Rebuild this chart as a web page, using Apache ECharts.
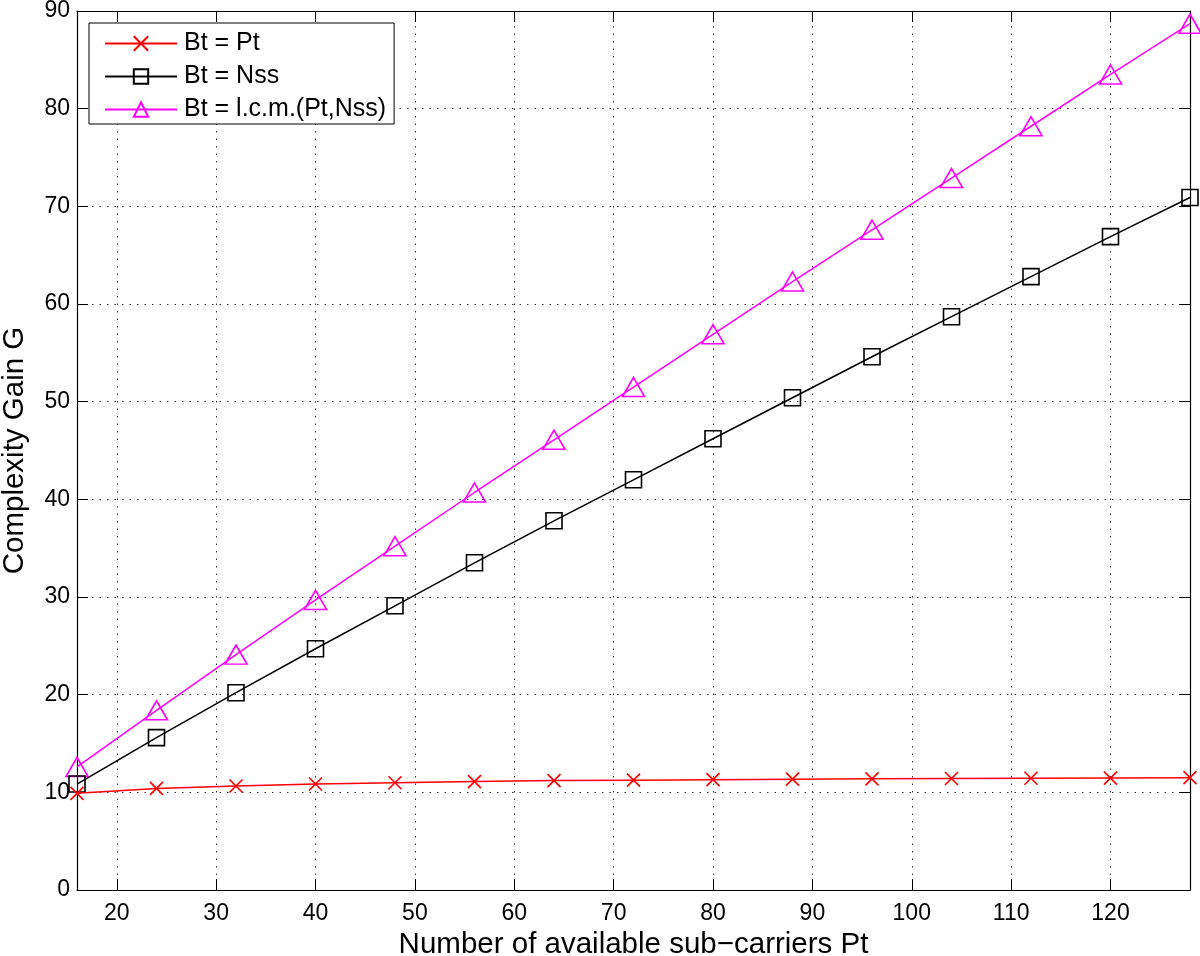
<!DOCTYPE html>
<html>
<head>
<meta charset="utf-8">
<script src="https://cdn.jsdelivr.net/npm/echarts@6/dist/echarts.min.js"></script>
<style>
  html, body { margin: 0; padding: 0; background: #fff; }
  #main { width: 1200px; height: 956px; }
</style>
</head>
<body>
<div id="main"></div>
<script>
  var myChart = echarts.init(document.getElementById('main'));

  // sub-carriers Pt
  var pt = [16, 24, 32, 40, 48, 56, 64, 72, 80, 88, 96, 104, 112, 120, 128];
  var btPt = [9.9, 10.4, 10.65, 10.85, 10.98, 11.1, 11.2, 11.25, 11.3, 11.35, 11.38, 11.42, 11.44, 11.46, 11.5];
  var btNss = [10.85, 15.6, 20.2, 24.7, 29.1, 33.5, 37.8, 42.0, 46.2, 50.4, 54.6, 58.7, 62.8, 66.9, 70.9];
  var btLcm = [12.6, 18.4, 24.1, 29.7, 35.2, 40.7, 46.1, 51.5, 56.9, 62.3, 67.6, 72.9, 78.2, 83.5, 88.7];
  var xTicks = [20, 30, 40, 50, 60, 70, 80, 90, 100, 110, 120];
  var names = ['Bt = Pt', 'Bt = Nss', 'Bt = l.c.m.(Pt,Nss)'];

  function pairs(ys) {
    return pt.map(function (x, i) { return [x, ys[i]]; });
  }

  var font = 'Liberation Sans, Arial, Helvetica, sans-serif';
  var crossPath = 'path://M0,0L10,10M10,0L0,10';

  var option = {
    backgroundColor: '#fff',
    animation: false,
    textStyle: { fontFamily: font },
    grid: { left: 77, right: 10, top: 11, bottom: 66, outerBoundsMode: 'none', containLabel: false },
    legend: {
      orient: 'vertical',
      left: 89,
      top: 23,
      padding: [8, 8, 2, 15],
      itemGap: 8,
      itemWidth: 72,
      itemHeight: 18,
      borderColor: '#000',
      borderWidth: 1,
      backgroundColor: '#fff',
      textStyle: { fontSize: 25, color: '#000', fontFamily: font, padding: [0, 0, 0, 2] },
      data: names
    },
    xAxis: [{
      type: 'value',
      min: 16,
      max: 128,
      name: 'Number of available sub\u2212carriers Pt',
      nameLocation: 'middle',
      nameGap: 36,
      nameTextStyle: { fontSize: 29.5, color: '#000', fontFamily: font },
      axisLine: { lineStyle: { color: '#000', width: 1.2 } },
      axisTick: { inside: true, length: 11, customValues: xTicks, lineStyle: { color: '#000' } },
      axisLabel: { customValues: xTicks, fontSize: 23, color: '#000', margin: 12, fontFamily: font },
      splitLine: { show: true, lineStyle: { color: '#333', type: [1.5, 6], width: 1 } }
    }, {
      type: 'value',
      position: 'top',
      min: 16,
      max: 128,
      axisLine: { show: true, onZero: false, lineStyle: { color: '#000', width: 1.2 } },
      axisTick: { inside: true, length: 11, customValues: xTicks, lineStyle: { color: '#000' } },
      axisLabel: { show: false },
      splitLine: { show: false }
    }],
    yAxis: [{
      type: 'value',
      min: 0,
      max: 90,
      interval: 10,
      name: 'Complexity Gain G',
      nameLocation: 'middle',
      nameGap: 47,
      nameTextStyle: { fontSize: 29.5, color: '#000', fontFamily: font },
      axisLine: { show: true, lineStyle: { color: '#000', width: 1.2 } },
      axisTick: { show: true, inside: true, length: 11, lineStyle: { color: '#000' } },
      axisLabel: { fontSize: 23, color: '#000', margin: 7, fontFamily: font },
      splitLine: { show: true, lineStyle: { color: '#333', type: [1.5, 6], width: 1 } }
    }, {
      type: 'value',
      position: 'right',
      min: 0,
      max: 90,
      interval: 10,
      axisLine: { show: true, onZero: false, lineStyle: { color: '#000', width: 1.2 } },
      axisTick: { show: true, inside: true, length: 11, lineStyle: { color: '#000' } },
      axisLabel: { show: false },
      splitLine: { show: false }
    }],
    series: [{
      name: names[0],
      type: 'line',
      data: pairs(btPt),
      symbol: crossPath,
      symbolSize: 13,
      itemStyle: { color: 'rgba(0,0,0,0)', borderColor: '#ff0000', borderWidth: 1.6 },
      lineStyle: { color: '#ff0000', width: 1.5 },
      z: 4
    }, {
      name: names[1],
      type: 'line',
      data: pairs(btNss),
      symbol: 'rect',
      symbolSize: 16,
      itemStyle: { color: 'rgba(0,0,0,0)', borderColor: '#000', borderWidth: 1.6 },
      lineStyle: { color: '#000', width: 1.5 },
      z: 3
    }, {
      name: names[2],
      type: 'line',
      data: pairs(btLcm),
      symbol: 'triangle',
      symbolSize: [22, 19],
      itemStyle: { color: 'rgba(0,0,0,0)', borderColor: '#ff00ff', borderWidth: 1.6 },
      lineStyle: { color: '#ff00ff', width: 1.5 },
      z: 2
    }]
  };

  myChart.setOption(option);
</script>
</body>
</html>
